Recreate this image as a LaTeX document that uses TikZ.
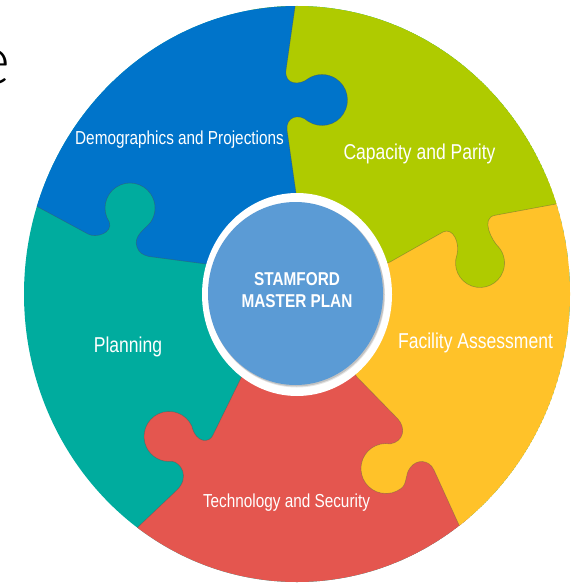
\documentclass[tikz,border=0pt]{standalone}
\usepackage{fontspec}
\usepackage{graphicx}
\setmainfont{Liberation Sans}
\newfontfamily\bigfont{Lato Light}
\usetikzlibrary{calc}
\definecolor{cBlue}{HTML}{0074CA}
\definecolor{cGreen}{HTML}{AFCB00}
\definecolor{cOrange}{HTML}{FFC229}
\definecolor{cRed}{HTML}{E4564F}
\definecolor{cTeal}{HTML}{00AC9E}
\definecolor{cHub}{HTML}{5B9BD5}
\newcommand{\squeezed}[1]{\scalebox{0.815}[1]{#1}}
\tikzset{
  piece/.style={draw=black!70, draw opacity=.4, line width=.6pt, line join=round},
  lab/.style={text=white, inner sep=0pt, anchor=base, font=\fontsize{#1}{#1}\selectfont},
  hublab/.style={text=white, inner sep=0pt, anchor=base, font=\bfseries\fontsize{18.6}{19}\selectfont}
}
\begin{document}
\begin{tikzpicture}[x=1pt,y=-1pt]
\useasboundingbox (0,0) rectangle (576,583);
\fill[white] (0,0) rectangle (576,583);
\node[inner sep=0pt, anchor=base east, font=\bigfont\fontsize{69}{72}\selectfont] (cut) at (11,85) {e};
\begin{scope}
  \clip (297,294) ellipse [x radius=273pt, y radius=288pt];
  \fill[cTeal] (297,294) ellipse [x radius=273pt, y radius=288pt];
  % red, traces its border with teal
  \path[piece, fill=cRed] (297,293) -- (260,340) -- (240,380) -- (213,435)
    .. controls (210,443) and (196,444) .. (191.7,425.9)
    arc[start angle=25, end angle=277, radius=25pt]
    .. controls (181,462.5) and (190,477) .. (177,490)
    -- (138,527) -- (110,555) -- (110,620) -- (470,620) -- (470,520) -- (420,400) -- cycle;
  % orange, traces its border with red
  \path[piece, fill=cOrange] (297,293) -- (357,377) -- (398,419)
    .. controls (406,428) and (404,441.5) .. (390.3,443.9)
    arc[start angle=80, end angle=308, radius=25pt]
    .. controls (407.4,483.5) and (405,474) .. (410,468)
    .. controls (416,459) and (429,459) .. (434,470)
    -- (459,525) -- (470,548) -- (620,560) -- (620,150) -- (480,200) -- cycle;
  % green, traces its border with orange
  \path[piece, fill=cGreen] (297,293) -- (390,262) -- (443,232)
    .. controls (453,227) and (460,243) .. (457,254.6)
    arc[start angle=160, end angle=400, radius=24.5pt]
    .. controls (492,241) and (480,218) .. (495,215.3)
    -- (556,204) -- (600,197) -- (600,-20) -- (250,-20) -- (250,150) -- cycle;
  % blue, traces its borders with green and teal
  \path[piece, fill=cBlue] (297,293) -- (296,193) -- (287,130)
    .. controls (285.5,118) and (298,112) .. (308.3,121.5)
    arc[start angle=-122.5, end angle=122.5, radius=25.5pt]
    .. controls (301,85) and (284,86) .. (286,70)
    -- (295,7) -- (296,-10) -- (-30,-30) -- (12,192) -- (38,207) -- (88,234)
    .. controls (96,238.5) and (113,233) .. (109.3,222)
    arc[start angle=214, end angle=-35, radius=25pt]
    .. controls (145,229) and (133,236) .. (137,247)
    .. controls (139,253) and (143,255) .. (149,256.5)
    -- (206,264) -- cycle;
\end{scope}
\fill[white] (297,294.5) ellipse [x radius=95pt, y radius=101.5pt];
\fill[black, opacity=.10] (297,295.5) ellipse [x radius=88pt, y radius=92pt];
\fill[black, opacity=.15] (296.5,294.5) ellipse [x radius=88pt, y radius=92pt];
\node[inner sep=0pt] (hubc) at (295.5,293.5) {};
\fill[cHub] (hubc) ellipse [x radius=87.5pt, y radius=91.5pt];
\node[lab=18.8] (demo) at (179.5,144) {\squeezed{Demographics and Projections}};
\node[lab=21.5] (cap) at (419.5,159) {\squeezed{Capacity and Parity}};
\node[lab=21.5] (fac) at (475.5,348) {\squeezed{Facility Assessment}};
\node[lab=21.5] (plan) at (128,352.5) {\squeezed{Planning}};
\node[lab=18.8] (tech) at (286.5,507.5) {\squeezed{Technology and Security}};
\node[hublab] (stam) at (297,285.5) {\scalebox{0.825}[1]{STAMFORD}};
\node[hublab] (mast) at (297,307.5) {\scalebox{0.825}[1]{MASTER PLAN}};
\end{tikzpicture}
\end{document}
